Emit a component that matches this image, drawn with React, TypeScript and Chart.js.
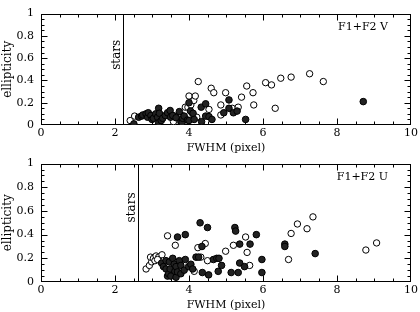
import React, { useEffect, useRef } from "react";
import { Chart, registerables } from "chart.js";
Chart.register(...registerables);

const xTickValues = [0, 2, 4, 6, 8, 10];
const yTickValues = [0, 0.2, 0.4, 0.6, 0.8, 1];
const xMinorStep = 0.5;
const yMinorStep = 0.05;
const xTitle = "FWHM (pixel)";
const yTitle = "ellipticity";
const starText = "stars";
const starTextY = 0.63;
const panelLabels = ["F1+F2 V", "F1+F2 U"];
const starLimits = [2.21, 2.61];

// Top panel (V band)
const vOpenX = [2.41, 2.53, 3.58, 3.62, 3.81, 3.9, 3.97, 4.0, 4.05, 4.1, 4.13, 4.17, 4.21, 4.25, 4.54, 4.6, 4.67, 4.86, 4.86, 4.99, 5.17, 5.33, 5.42, 5.56, 5.73, 5.75, 6.07, 6.23, 6.33, 6.48, 6.76, 7.26, 7.63];
const vOpenY = [0.04, 0.08, 0.03, 0.08, 0.085, 0.16, 0.16, 0.26, 0.18, 0.1, 0.22, 0.26, 0.07, 0.39, 0.14, 0.33, 0.29, 0.18, 0.09, 0.29, 0.15, 0.16, 0.25, 0.35, 0.29, 0.18, 0.38, 0.36, 0.15, 0.42, 0.43, 0.46, 0.39];
const vFilledX = [2.51, 2.64, 2.72, 2.75, 2.84, 2.88, 2.9, 2.97, 3.0, 3.04, 3.1, 3.15, 3.18, 3.2, 3.18, 3.25, 3.29, 3.36, 3.42, 3.49, 3.5, 3.56, 3.65, 3.74, 3.78, 3.81, 3.83, 3.87, 3.96, 4.0, 4.0, 4.04, 4.11, 4.14, 4.33, 4.34, 4.45, 4.45, 4.54, 4.62, 4.94, 5.08, 5.08, 5.2, 5.3, 5.53, 8.71];
const vFilledY = [0.01, 0.07, 0.08, 0.09, 0.1, 0.07, 0.11, 0.085, 0.05, 0.06, 0.1, 0.07, 0.15, 0.105, 0.02, 0.04, 0.06, 0.085, 0.11, 0.13, 0.07, 0.085, 0.065, 0.12, 0.03, 0.02, 0.06, 0.08, 0.045, 0.2, 0.04, 0.125, 0.105, 0.05, 0.16, 0.03, 0.19, 0.08, 0.075, 0.05, 0.11, 0.225, 0.15, 0.11, 0.125, 0.05, 0.21];

// Bottom panel (U band)
const uOpenX = [2.84, 2.93, 2.99, 2.96, 3.04, 3.08, 3.11, 3.18, 3.27, 3.15, 3.42, 3.63, 4.14, 4.24, 4.32, 4.44, 4.5, 4.99, 5.2, 5.53, 5.57, 5.64, 6.69, 6.76, 6.93, 7.19, 7.35, 8.78, 9.07];
const uOpenY = [0.11, 0.14, 0.17, 0.21, 0.2, 0.18, 0.22, 0.21, 0.23, 0.19, 0.39, 0.31, 0.09, 0.29, 0.21, 0.325, 0.18, 0.26, 0.31, 0.38, 0.25, 0.14, 0.19, 0.41, 0.49, 0.45, 0.55, 0.27, 0.33];
const uFilledX = [3.26, 3.31, 3.38, 3.38, 3.42, 3.45, 3.47, 3.49, 3.51, 3.56, 3.6, 3.62, 3.65, 3.65, 3.69, 3.69, 3.74, 3.78, 3.78, 3.87, 3.9, 3.9, 3.99, 4.05, 4.1, 4.19, 4.26, 4.3, 4.35, 4.36, 4.5, 4.53, 4.66, 4.75, 4.79, 4.81, 4.88, 5.14, 5.24, 5.26, 5.33, 5.37, 5.37, 5.5, 5.65, 5.82, 5.97, 5.97, 6.59, 6.59, 7.41];
const uFilledY = [0.16, 0.13, 0.18, 0.11, 0.05, 0.07, 0.17, 0.11, 0.05, 0.2, 0.15, 0.09, 0.13, 0.04, 0.085, 0.38, 0.18, 0.14, 0.07, 0.1, 0.19, 0.4, 0.13, 0.15, 0.11, 0.21, 0.21, 0.5, 0.3, 0.08, 0.46, 0.06, 0.19, 0.2, 0.09, 0.2, 0.14, 0.08, 0.46, 0.43, 0.08, 0.32, 0.16, 0.13, 0.32, 0.4, 0.19, 0.08, 0.32, 0.3, 0.24];

const FONT = "'DejaVu Serif', serif";

type PanelProps = {
  top: number;
  height: number;
  areaTop: number;
  areaBottom: number;
  titleOffset: number;
  openX: number[];
  openY: number[];
  filledX: number[];
  filledY: number[];
  starX: number;
  label: string;
};

function Panel(p: PanelProps) {
  const ref = useRef<HTMLCanvasElement>(null);
  useEffect(() => {
    const canvas = ref.current!;
    const pts = (xs: number[], ys: number[]) => xs.map((x, i) => ({ x, y: ys[i] }));
    const decor = {
      id: "decor",
      beforeDatasetsDraw(chart: any) {
        const { ctx, chartArea: a, scales } = chart;
        const xs = scales.x;
        const ys = scales.y;
        ctx.save();
        ctx.strokeStyle = "#000";
        ctx.lineWidth = 1;
        const L = Math.round(a.left) + 0.5;
        const R = Math.round(a.right) - 0.5;
        const T = Math.round(a.top) + 0.5;
        const B = Math.round(a.bottom) - 0.5;
        ctx.beginPath();
        const nx = Math.round(10 / xMinorStep);
        for (let i = 1; i < nx; i++) {
          const v = i * xMinorStep;
          const px = Math.round(xs.getPixelForValue(v)) + 0.5;
          const len = i % 4 === 0 ? 6 : 3;
          ctx.moveTo(px, B);
          ctx.lineTo(px, B - len);
          ctx.moveTo(px, T);
          ctx.lineTo(px, T + len);
        }
        const ny = Math.round(1 / yMinorStep);
        for (let i = 1; i < ny; i++) {
          const v = i * yMinorStep;
          const py = Math.round(ys.getPixelForValue(v)) + 0.5;
          const len = i % 4 === 0 ? 6 : 3;
          ctx.moveTo(L, py);
          ctx.lineTo(L + len, py);
          ctx.moveTo(R, py);
          ctx.lineTo(R - len, py);
        }
        const sx = Math.round(xs.getPixelForValue(p.starX)) + 0.5;
        ctx.moveTo(sx, T);
        ctx.lineTo(sx, B);
        ctx.stroke();
        ctx.strokeRect(L, T, R - L, B - T);

        ctx.fillStyle = "#000";
        ctx.font = `12px ${FONT}`;
        ctx.save();
        ctx.translate(sx - 7, ys.getPixelForValue(starTextY));
        ctx.rotate(-Math.PI / 2);
        ctx.textAlign = "center";
        ctx.textBaseline = "middle";
        ctx.fillText(starText, 0, 0);
        ctx.restore();

        ctx.font = `11px ${FONT}`;
        ctx.textAlign = "right";
        ctx.textBaseline = "middle";
        ctx.fillText(p.label, a.right - 23, a.top + 14);
        ctx.restore();
      },
    };
    const chart = new Chart(canvas, {
      type: "scatter",
      data: {
        datasets: [
          {
            data: pts(p.filledX, p.filledY),
            backgroundColor: "#222",
            borderColor: "#000",
            borderWidth: 1,
            pointRadius: 3.3,
            pointHoverRadius: 3.3,
          },
          {
            data: pts(p.openX, p.openY),
            backgroundColor: "#fff",
            borderColor: "#000",
            borderWidth: 1,
            pointRadius: 3.2,
            pointHoverRadius: 3.2,
          },
        ],
      },
      options: {
        responsive: false,
        animation: false,
        devicePixelRatio: 1,
        events: [],
        layout: { padding: { top: p.areaTop, right: 7, left: 0, bottom: 0 } },
        plugins: { legend: { display: false }, tooltip: { enabled: false } },
        scales: {
          x: {
            type: "linear",
            min: 0,
            max: 10,
            grid: { display: false, drawTicks: false },
            border: { display: false },
            afterBuildTicks: (s: any) => {
              s.ticks = xTickValues.map((v) => ({ value: v }));
            },
            afterFit: (s: any) => {
              s.height = p.height - p.areaBottom;
            },
            ticks: {
              color: "#000",
              font: { family: FONT, size: 11 },
              padding: 2,
              maxRotation: 0,
              autoSkip: false,
              callback: (v: any) => String(v),
            },
            title: {
              display: true,
              text: xTitle,
              color: "#000",
              font: { family: FONT, size: 11 },
              padding: { top: 0, bottom: Math.max(0, p.titleOffset - 6.6) },
            },
          },
          y: {
            type: "linear",
            min: 0,
            max: 1,
            grid: { display: false, drawTicks: false },
            border: { display: false },
            afterBuildTicks: (s: any) => {
              s.ticks = yTickValues.map((v) => ({ value: v }));
            },
            afterFit: (s: any) => {
              s.width = 41;
            },
            ticks: {
              color: "#000",
              font: { family: FONT, size: 11 },
              padding: 7,
              autoSkip: false,
              callback: (v: any) => String(v),
            },
            title: {
              display: true,
              text: yTitle,
              color: "#000",
              font: { family: FONT, size: 12 },
              padding: { top: 1, bottom: 0 },
            },
          },
        },
      },
      plugins: [decor],
    } as any);
    return () => chart.destroy();
  }, []);
  return (
    <canvas
      ref={ref}
      width={420}
      height={p.height}
      style={{ position: "absolute", left: 0, top: p.top, width: 420, height: p.height }}
    />
  );
}

export default function App() {
  return (
    <div style={{ position: "absolute", left: 0, top: 0, width: 420, height: 312, background: "#fff" }}>
      <Panel
        top={0}
        height={160}
        areaTop={5}
        areaBottom={125}
        titleOffset={12}
        openX={vOpenX}
        openY={vOpenY}
        filledX={vFilledX}
        filledY={vFilledY}
        starX={starLimits[0]}
        label={panelLabels[0]}
      />
      <Panel
        top={150}
        height={162}
        areaTop={11}
        areaBottom={132}
        titleOffset={7}
        openX={uOpenX}
        openY={uOpenY}
        filledX={uFilledX}
        filledY={uFilledY}
        starX={starLimits[1]}
        label={panelLabels[1]}
      />
    </div>
  );
}
